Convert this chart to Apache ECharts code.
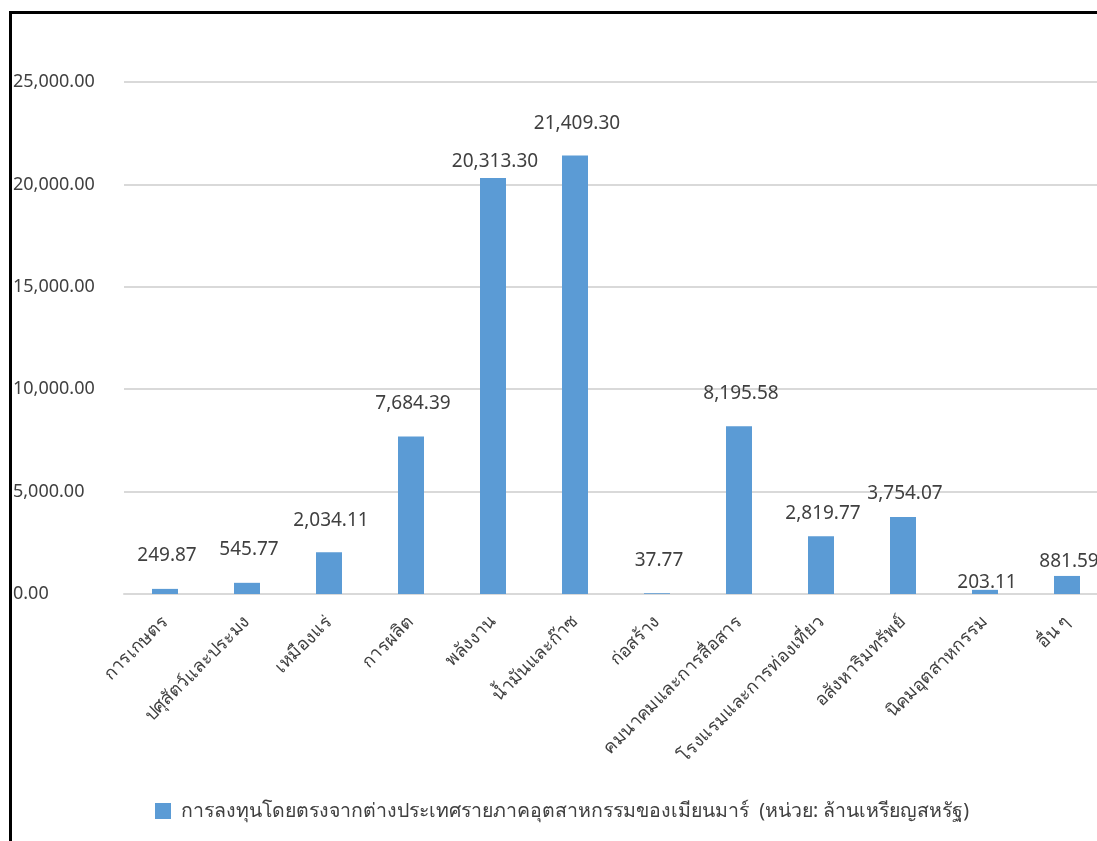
<!DOCTYPE html>
<html>
<head>
<meta charset="utf-8">
<style>
  html, body { margin: 0; padding: 0; background: #fff; overflow: hidden; }
  #chart { width: 1112px; height: 841px; }
</style>
<script src="https://cdn.jsdelivr.net/npm/echarts@6/dist/echarts.min.js"></script>
</head>
<body>
<div id="chart"></div>
<script>
// Myanmar FDI by sector (million USD)
const categories = [
  'การเกษตร', 'ปศุสัตว์และประมง', 'เหมืองแร่', 'การผลิต', 'พลังงาน',
  'น้ำมันและก๊าซ', 'ก่อสร้าง', 'คมนาคมและการสื่อสาร', 'โรงแรมและการท่องเที่ยว',
  'อสังหาริมทรัพย์', 'นิคมอุตสาหกรรม', 'อื่น ๆ'
];
const investment = [
  249.87, 545.77, 2034.11, 7684.39, 20313.30, 21409.30,
  37.77, 8195.58, 2819.77, 3754.07, 203.11, 881.59
];
const seriesName = 'การลงทุนโดยตรงจากต่างประเทศรายภาคอุตสาหกรรมของเมียนมาร์  (หน่วย: ล้านเหรียญสหรัฐ)';
const yTicks = [0, 5000, 10000, 15000, 20000, 25000];

// how far each value label sits above its bar (px)
const labelLift = [24, 24, 22, 24, 7, 22, 23, 23, 13, 14, -2, 5];

const FONT = "'Noto Sans', 'DejaVu Sans', sans-serif";
const fmt = v => v.toLocaleString('en-US', { minimumFractionDigits: 2, maximumFractionDigits: 2 });

const chart = echarts.init(document.getElementById('chart'), null, { renderer: 'canvas' });

chart.setOption({
  animation: false,
  backgroundColor: '#ffffff',
  textStyle: { fontFamily: FONT },
  grid: { left: 124, right: 4, top: 82, bottom: 247 },
  legend: {
    left: 150, top: 796,
    itemWidth: 16, itemHeight: 16,
    icon: 'rect',
    textStyle: { fontSize: 19.5, color: '#404040', fontFamily: FONT, padding: [0, 0, 0, 5] },
    data: [seriesName]
  },
  xAxis: {
    type: 'category',
    data: categories,
    axisTick: { show: false },
    axisLine: { lineStyle: { color: '#d9d9d9', width: 2 } },
    axisLabel: {
      interval: 0, rotate: 45, margin: 25,
      fontSize: 18, color: '#404040', fontFamily: FONT
    }
  },
  yAxis: {
    type: 'value',
    min: yTicks[0], max: yTicks[yTicks.length - 1], interval: 5000,
    axisLine: { show: false },
    axisTick: { show: false },
    splitLine: { lineStyle: { color: '#d9d9d9', width: 2 } },
    axisLabel: {
      align: 'left', margin: 111,
      padding: [0, 0, 5, 0],
      fontSize: 18, color: '#404040', fontFamily: FONT,
      formatter: v => fmt(v)
    }
  },
  series: [{
    name: seriesName,
    type: 'bar',
    barWidth: 26,
    itemStyle: { color: '#5b9bd5' },
    data: investment.map((v, i) => ({
      value: v,
      label: { offset: [2, -labelLift[i]] }
    })),
    label: {
      show: true, position: 'top', distance: 0,
      fontSize: 19, color: '#404040', fontFamily: FONT,
      formatter: p => fmt(p.value)
    }
  }],
  graphic: [{
    type: 'rect',
    silent: true,
    z: 100,
    shape: { x: 10.5, y: 12.5, width: 1200, height: 1000 },
    style: { fill: 'none', stroke: '#000', lineWidth: 3 }
  }]
});
</script>
</body>
</html>
